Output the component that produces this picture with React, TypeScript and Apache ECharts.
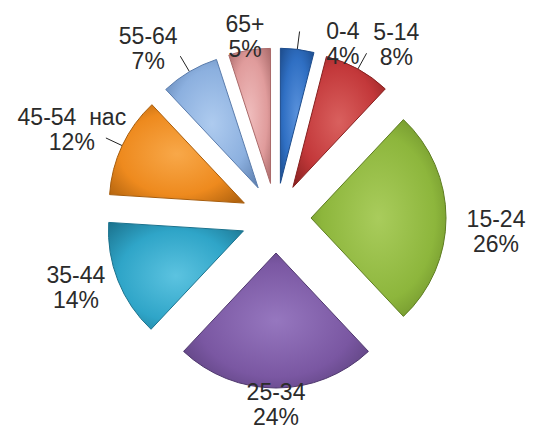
import React, { useEffect, useRef } from 'react';
import * as echarts from 'echarts';

const CATEGORIES = ['0-4', '5-14', '15-24', '25-34', '35-44', '45-54  нас', '55-64', '65+'];
const VALUES = [4, 8, 26, 24, 14, 12, 7, 5];

const BASE = ['#2f6fc3', '#c3383a', '#8db63c', '#7a57a2', '#2fa5c8', '#ee8a1e', '#8cb0df', '#e09c9c'];
const LIGHT = ['#5a92dc', '#d9605e', '#a9cc5c', '#9677bf', '#5cc3e0', '#f8a849', '#aecbef', '#efbcbc'];
const DARK = ['#1d4c8c', '#86201f', '#5e7d22', '#4f386e', '#1b728d', '#a85d0c', '#5a7cac', '#aa6a6a'];
const HAS_LEADER = [true, true, false, false, false, true, true, false];
const LABEL_NUDGE = [[42, 22], [25, 0], [22, 13], [0, -12], [-16, -3], [-25, -4], [-27, 1], [0, 14]];

export default function App() {
  const ref = useRef<HTMLDivElement>(null);
  useEffect(() => {
    document.body.style.margin = '0';
    const chart = echarts.init(ref.current!, null, { renderer: 'svg' });
    const grad = (i: number) =>
      new echarts.graphic.RadialGradient(0.5, 0.5, 0.7, [
        { offset: 0, color: LIGHT[i] },
        { offset: 0.6, color: BASE[i] },
        { offset: 1, color: DARK[i] },
      ]);
    const mainData = CATEGORIES.map((name, i) => {
      const style = { color: grad(i), borderColor: DARK[i], borderWidth: 1 };
      return {
        name,
        value: VALUES[i],
        selected: true,
        itemStyle: style,
        select: { itemStyle: style },
        label: { show: HAS_LEADER[i] },
        labelLine: { show: HAS_LEADER[i] },
      };
    });
    const labelData = CATEGORIES.map((name, i) => ({ name, value: VALUES[i] }));
    chart.setOption({
      animation: false,
      backgroundColor: '#ffffff',
      series: [
        {
          type: 'pie',
          center: [276, 218],
          radius: [0, 135],
          startAngle: 90,
          clockwise: true,
          selectedMode: 'multiple',
          selectedOffset: 35,
          avoidLabelOverlap: false,
          emphasis: { disabled: true },
          silent: true,
          label: {
            position: 'outside',
            formatter: ' ',
            color: 'rgba(0,0,0,0)',
            fontSize: 10,
          },
          labelLine: {
            length: 18,
            length2: 0,
            smooth: false,
            lineStyle: { color: '#222', width: 1 },
          },
          data: mainData,
        },
        {
          type: 'pie',
          center: [276, 218],
          radius: [180, 210],
          startAngle: 90,
          clockwise: true,
          silent: true,
          emphasis: { disabled: true },
          itemStyle: { color: 'rgba(0,0,0,0)' },
          label: {
            position: 'inside',
            formatter: (p: any) => `${p.name}\n${p.value}%`,
            fontFamily: '"Liberation Sans", Arial, sans-serif',
            fontSize: 23,
            lineHeight: 25,
            color: '#2b2b2b',
          },
          labelLine: { show: false },
          labelLayout: (p: any) => ({
            dx: LABEL_NUDGE[p.dataIndex][0],
            dy: LABEL_NUDGE[p.dataIndex][1],
          }),
          data: labelData,
        },
      ],
    });
    return () => chart.dispose();
  }, []);
  return <div ref={ref} style={{ width: 533, height: 431 }} />;
}
